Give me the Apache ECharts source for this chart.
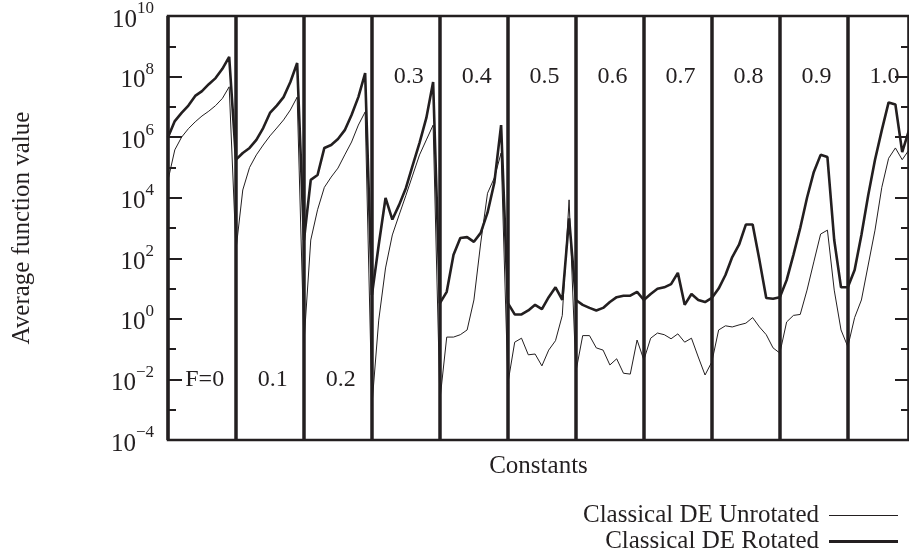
<!DOCTYPE html>
<html>
<head>
<meta charset="utf-8">
<title>Average function value</title>
<script src="https://cdn.jsdelivr.net/npm/echarts/dist/echarts.min.js"></script>
<style>
  html, body { margin: 0; padding: 0; background: #fff; }
  #chart { width: 909px; height: 555px; }
</style>
</head>
<body>
<div id="chart"></div>
<script>
// one block of 10 points per F value
const fLabels = ['F=0', '0.1', '0.2', '0.3', '0.4', '0.5', '0.6', '0.7', '0.8', '0.9', '1.0'];
const labelAt = [1e-2, 1e-2, 1e-2, 1e8, 1e8, 1e8, 1e8, 1e8, 1e8, 1e8, 1e8];

const unrotated = [
  3.8e4, 3.8e5, 1.0e6, 1.9e6, 3.2e6, 5.0e6, 7.2e6, 1.1e7, 1.9e7, 4.6e7,   // F=0
  1.9e2, 1.8e4, 1.0e5, 2.6e5, 5.5e5, 1.1e6, 2.0e6, 3.7e6, 7.9e6, 2.1e7,   // 0.1
  0.16, 4.0e2, 4.0e3, 2.2e4, 4.8e4, 9.5e4, 2.6e5, 6.9e5, 2.5e6, 6.8e6,    // 0.2
  1.4e-3, 0.91, 48, 5.9e2, 2.7e3, 1.2e4, 5.6e4, 2.6e5, 8.1e5, 2.5e6,      // 0.3
  2.1e-3, 0.25, 0.25, 0.30, 0.43, 4.2, 3.2e2, 1.4e4, 4.5e4, 3.0e5,        // 0.4
  7.6e-3, 0.17, 0.23, 0.065, 0.069, 0.028, 0.093, 0.19, 1.3, 8.5e3,       // 0.5
  0.018, 0.28, 0.28, 0.11, 0.093, 0.030, 0.048, 0.016, 0.015, 0.20,       // 0.6
  0.044, 0.23, 0.34, 0.30, 0.22, 0.32, 0.17, 0.23, 0.055, 0.014,          // 0.7
  0.038, 0.43, 0.59, 0.54, 0.63, 0.72, 1.1, 0.54, 0.30, 0.11,             // 0.8
  0.074, 0.79, 1.3, 1.4, 8.9, 76, 6.3e2, 8.5e2, 8.9, 0.43,                // 0.9
  0.12, 1.1, 4.2, 60, 8.5e2, 2.2e4, 2.0e5, 4.4e5, 1.8e5, 3.8e5            // 1.0
];

const rotated = [
  1.0e6, 3.4e6, 6.3e6, 1.1e7, 2.3e7, 3.3e7, 5.6e7, 8.9e7, 1.8e8, 4.5e8,   // F=0
  1.8e5, 3.0e5, 4.4e5, 8.1e5, 2.0e6, 6.3e6, 1.1e7, 2.1e7, 6.6e7, 2.8e8,   // 0.1
  4.0e2, 3.9e4, 5.6e4, 4.4e5, 5.5e5, 8.7e5, 1.7e6, 5.4e6, 2.1e7, 1.3e8,   // 0.2
  6.2, 2.8e2, 9.8e3, 1.9e3, 5.8e3, 2.1e4, 1.2e5, 6.5e5, 4.3e6, 6.6e7,     // 0.3
  3.3, 7.8, 1.3e2, 4.7e2, 5.0e2, 3.5e2, 6.9e2, 3.2e3, 3.1e4, 2.5e6,       // 0.4
  3.3, 1.4, 1.4, 1.9, 2.9, 2.1, 5.2, 11, 4.2, 2.1e3,                      // 0.5
  4.2, 2.9, 2.3, 1.9, 2.3, 3.6, 5.2, 5.8, 5.8, 7.8,                       // 0.6
  4.2, 6.6, 9.8, 11, 14, 33, 2.9, 6.6, 4.2, 3.6,                          // 0.7
  4.9, 10, 28, 1.1e2, 2.8e2, 1.3e3, 1.3e3, 87, 4.9, 4.6,                  // 0.8
  5.2, 19, 1.3e2, 1.0e3, 1.0e4, 7.1e4, 2.6e5, 2.2e5, 4.0e2, 11,           // 0.9
  11, 41, 5.9e2, 1.2e4, 1.8e5, 1.7e6, 1.4e7, 1.2e7, 3.2e5, 1.7e6          // 1.0
];

const ink = '#231f20';
const serif = 'Liberation Serif';
const perBlock = 10;

const chart = echarts.init(document.getElementById('chart'));

const tickStyle = { color: ink, width: 2 };

function expLabel(v) {
  const e = v < 0 ? '\u2212' + (-v) : String(v);
  return '{b|10}{s|' + e + '}';
}

function legendFor(name, top, thickness) {
  return {
    data: [name],
    right: 11,
    top: top,
    padding: 0,
    orient: 'vertical',
    align: 'right',
    icon: 'rect',
    itemWidth: 69,
    itemHeight: thickness,
    itemStyle: { color: ink, borderWidth: 0 },
    selectedMode: false,
    textStyle: { fontFamily: serif, fontSize: 25, color: ink, padding: [0, 5, 0, 0] }
  };
}

const option = {
  animation: false,
  backgroundColor: '#fff',
  grid: {
    left: 168,
    top: 16,
    width: 744,
    height: 424,
    show: true,
    borderColor: ink,
    borderWidth: 2.5
  },
  xAxis: {
    type: 'value',
    min: 0,
    max: fLabels.length * perBlock - 1,
    interval: perBlock,
    name: 'Constants',
    nameLocation: 'middle',
    nameGap: 14,
    nameTextStyle: { fontFamily: serif, fontSize: 25, color: ink },
    axisLine: { show: false },
    axisTick: { show: false },
    axisLabel: { show: false },
    splitLine: { show: true, lineStyle: { color: ink, width: 3.5 } }
  },
  yAxis: [
    { type: 'log', logBase: 10, min: 1e-4, max: 1e10, show: false },
    {
      type: 'value',
      min: -4,
      max: 10,
      interval: 2,
      position: 'left',
      name: 'Average function value',
      nameLocation: 'middle',
      nameGap: 133,
      nameTextStyle: { fontFamily: serif, fontSize: 25, color: ink },
      axisLine: { show: false },
      axisTick: { inside: true, length: 14, lineStyle: tickStyle },
      minorTick: { show: true, splitNumber: 2, length: 8, lineStyle: tickStyle },
      splitLine: { show: false },
      axisLabel: {
        margin: 14,
        formatter: expLabel,
        rich: {
          b: { fontFamily: serif, fontSize: 25, color: ink, padding: [8, 0, 0, 0] },
          s: { fontFamily: serif, fontSize: 17, color: ink, padding: [0, 0, 14, 0] }
        }
      }
    },
    {
      type: 'value',
      min: -4,
      max: 10,
      interval: 2,
      position: 'right',
      axisLine: { show: false },
      axisTick: { inside: true, length: 14, lineStyle: tickStyle },
      minorTick: { show: true, splitNumber: 2, length: 8, lineStyle: tickStyle },
      splitLine: { show: false },
      axisLabel: { show: false }
    }
  ],
  legend: [
    legendFor('Classical DE Unrotated', 503, 1.2),
    legendFor('Classical DE Rotated', 529, 3)
  ],
  series: [
    {
      name: 'Classical DE Rotated',
      type: 'line',
      yAxisIndex: 0,
      symbol: 'none',
      data: rotated.map((v, i) => [i, v]),
      lineStyle: { color: ink, width: 2.6 },
      itemStyle: { color: ink }
    },
    {
      name: 'Classical DE Unrotated',
      type: 'line',
      yAxisIndex: 0,
      symbol: 'none',
      data: unrotated.map((v, i) => [i, v]),
      lineStyle: { color: ink, width: 1 },
      itemStyle: { color: ink }
    },
    {
      name: 'F labels',
      type: 'scatter',
      yAxisIndex: 0,
      symbolSize: 0,
      silent: true,
      z: 5,
      itemStyle: { opacity: 1 },
      data: fLabels.map((name, k) => ({ name: name, value: [k * perBlock + 5.4, labelAt[k]] })),
      label: {
        show: true,
        position: 'inside',
        formatter: '{b}',
        fontFamily: serif,
        fontSize: 24,
        color: ink,
        opacity: 1
      }
    }
  ]
};

chart.setOption(option);
</script>
</body>
</html>
